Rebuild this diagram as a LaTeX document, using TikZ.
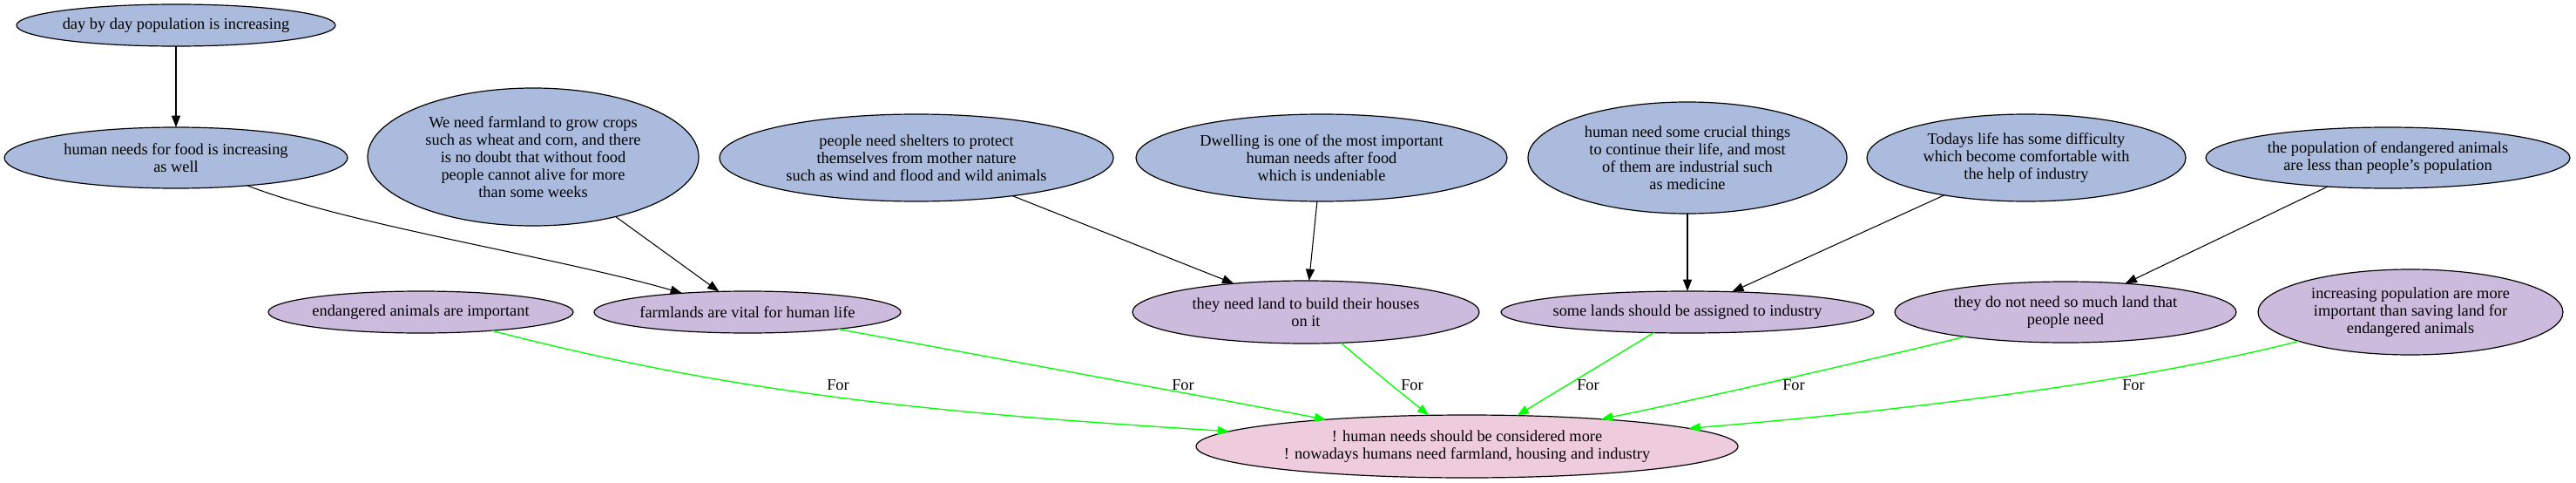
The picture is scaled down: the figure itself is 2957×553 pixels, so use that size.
\documentclass[tikz,border=0pt]{standalone}
\usepackage{fontspec}
\setmainfont{Liberation Serif}
\usetikzlibrary{shapes.geometric,arrows.meta}
\definecolor{nblue}{HTML}{AABBDD}
\definecolor{npurple}{HTML}{CCBBDD}
\definecolor{npink}{HTML}{EECCDD}
\definecolor{egreen}{HTML}{00FF00}
\newcommand\gvfont{\fontsize{13.76pt}{15pt}\selectfont}
\begin{document}
\begin{tikzpicture}[x=0.75pt,y=-0.75pt,
  ell/.style 2 args={ellipse, draw=black, line width=0.9pt, minimum width={#1*1.5pt}, minimum height={#2*1.5pt}, inner sep=0pt, outer sep=0pt},
  prem/.style={fill=nblue},
  claim/.style={fill=npurple},
  concl/.style={fill=npink},
  txt/.style={align=center, font=\gvfont, inner sep=0pt},
  supedge/.style={draw=black, line width=0.8pt, -{Triangle[length=10pt,width=7.5pt]}},
  proedge/.style={draw=egreen, line width=1pt, -{Triangle[length=10pt,width=7.5pt]}},
  forlbl/.style={font=\gvfont, inner sep=0pt}]
\useasboundingbox (0,0) rectangle (2957,553);

% premises (top rows)
\node[ell={183}{24}, prem, label={[txt]center:{day by day population is increasing}}] (day) at (202,29) {};
\node[ell={197}{35}, prem, label={[txt]center:{human needs for food is increasing\\as well}}] (food) at (202,181) {};
\node[ell={190}{79}, prem, label={[txt]center:{We need farmland to grow crops\\such as wheat and corn, and there\\is no doubt that without food\\people cannot alive for more\\than some weeks}}] (farmland) at (612,180) {};
\node[ell={226}{50}, prem, label={[txt]center:{people need shelters to protect\\themselves from mother nature\\such as wind and flood and wild animals}}] (shelter) at (1052,181) {};
\node[ell={213}{50}, prem, label={[txt]center:{Dwelling is one of the most important\\human needs after food\\which is undeniable}}] (dwell) at (1517,181) {};
\node[ell={183}{64}, prem, label={[txt]center:{human need some crucial things\\to continue their life, and most\\of them are industrial such\\as medicine}}] (crucial) at (1937,181) {};
\node[ell={183}{50}, prem, label={[txt]center:{Todays life has some difficulty\\which become comfortable with\\the help of industry}}] (todays) at (2326,181) {};
\node[ell={209}{35}, prem, label={[txt]center:{the population of endangered animals\\are less than people's population}}] (popend) at (2741,181) {};

% claims
\node[ell={175}{24}, claim, label={[txt]center:{endangered animals are important}}] (endang) at (483,358) {};
\node[ell={176}{24}, claim, label={[txt]center:{farmlands are vital for human life}}] (vital) at (858,358) {};
\node[ell={199}{36}, claim, label={[txt]center:{they need land to build their houses\\on it}}] (land) at (1499,358) {};
\node[ell={214}{24}, claim, label={[txt]center:{some lands should be assigned to industry}}] (some) at (1937,358) {};
\node[ell={196}{35}, claim, label={[txt]center:{they do not need so much land that\\people need}}] (donot) at (2371,358) {};
\node[ell={175}{49}, claim, label={[txt]center:{increasing population are more\\important than saving land for\\endangered animals}}] (incr) at (2767,358) {};

% conclusion
\node[ell={311}{36}, concl, label={[txt]center:{! human needs should be considered more\\! nowadays humans need farmland, housing and industry}}] (main) at (1684,512) {};

% supporting edges
\draw[supedge] (day) -- (food);
\draw[supedge] (food) .. controls (400,258) and (640,295) .. (vital);
\draw[supedge] (farmland) -- (vital);
\draw[supedge] (shelter) -- (land);
\draw[supedge] (dwell) -- (land);
\draw[supedge] (crucial) -- (some);
\draw[supedge] (todays) -- (some);
\draw[supedge] (popend) -- (donot);

% "For" edges
\draw[proedge] (endang) .. controls (856,455) and (1098,475) .. (main);
\draw[proedge] (vital) .. controls (1100,403) and (1400,458) .. (main);
\draw[proedge] (land) .. controls (1570,420) and (1620,460) .. (main);
\draw[proedge] (some) .. controls (1860,405) and (1780,453) .. (main);
\draw[proedge] (donot) .. controls (2150,412) and (1950,458) .. (main);
\draw[proedge] (incr) .. controls (2470,435) and (2200,470) .. (main);

\node[forlbl] (f1) at (962,442) {For};
\node[forlbl] (f2) at (1358,442) {For};
\node[forlbl] (f3) at (1621,442) {For};
\node[forlbl] (f4) at (1823,442) {For};
\node[forlbl] (f5) at (2059,442) {For};
\node[forlbl] (f6) at (2449,442) {For};
\end{tikzpicture}
\end{document}
